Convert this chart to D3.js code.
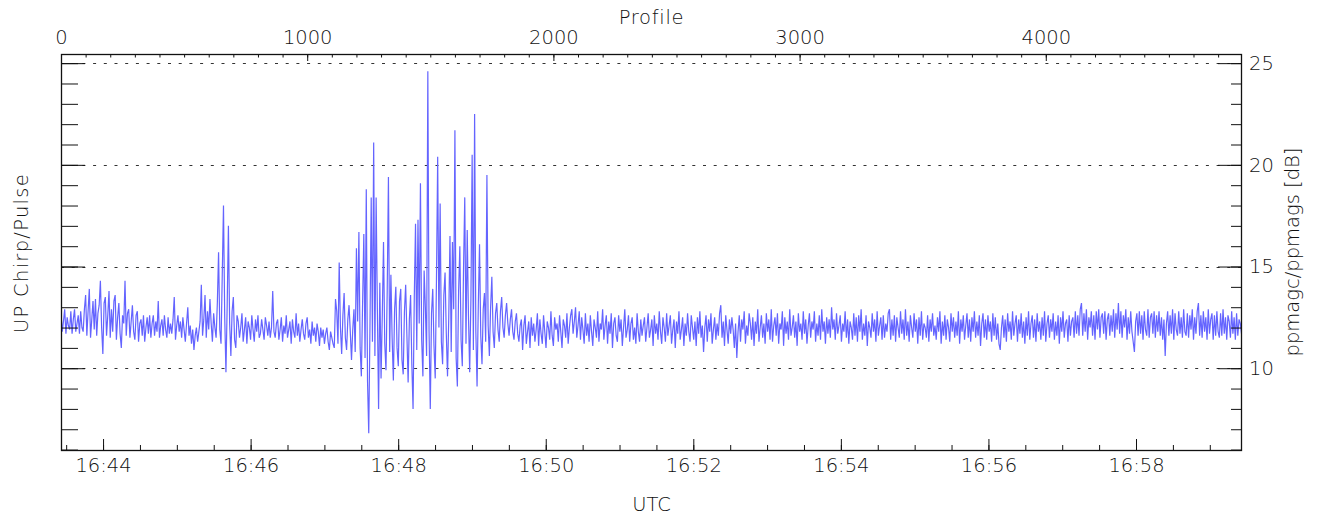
<!DOCTYPE html>
<html>
<head>
<meta charset="utf-8">
<script src="https://cdn.jsdelivr.net/npm/d3@7"></script>
<style>
  html, body { margin: 0; padding: 0; background: #fff; }
  svg { display: block; }
  text { font-family: "DejaVu Sans", "Liberation Sans", sans-serif; font-weight: 200; fill: #111; }
</style>
</head>
<body>
<svg id="chart" width="1319" height="519"></svg>
<script>
// ---------------- data (one every 5 profiles) ----------------
const profileStep = 5;
// 16:43:26 – ~16:45:30
const segA = [12.7, 11.8, 12.3, 12.9, 11.7, 12.5, 12.1, 11.9, 12.8, 11.7, 12.4, 12.9, 11.8, 12.2, 12.6, 11.7, 12.8, 12.0, 11.8, 12.9,
  13.6, 11.6, 12.8, 13.9, 11.5, 12.4, 13.3, 11.9, 13.4, 11.6, 12.7, 13.1,
  14.3, 12.0, 10.7, 13.2, 13.5, 11.6, 12.6, 13.8, 11.5, 12.9, 11.8, 13.3,
  13.6, 11.4, 12.5, 13.2, 11.7, 11.0, 12.6, 12.2,
  14.3, 11.6, 12.7, 12.9, 11.5, 12.3, 13.1, 11.8, 11.4, 12.6,
  12.8, 11.3, 12.2, 12.4, 11.6, 12.6, 11.3, 12.0, 12.5, 11.7,
  12.6, 11.5, 12.2, 12.6, 11.6, 12.3, 11.8, 13.3, 11.5, 12.1, 12.4, 11.6, 12.6, 11.9, 11.5, 12.5, 11.7, 12.2,
  11.7, 12.4, 13.5, 11.4, 12.1, 12.6, 11.8, 12.3, 11.5, 12.5, 11.9, 11.3, 12.2, 13.0, 11.6, 12.1,
  11.2, 11.9, 10.9, 11.6, 12.0, 11.3, 11.8, 12.3];
// ~16:45:30 – 16:47:15 (spike near 16:45:40)
const segB = [14.1, 11.6, 12.4, 13.6, 11.5, 12.8, 11.9, 13.4, 12.2, 11.3, 12.7, 12.0, 11.5, 13.2,
  15.7, 11.9, 11.2, 14.6, 18.0, 12.5, 9.8, 13.1, 17.0, 12.2, 10.6, 12.8,
  13.5, 11.4, 11.0, 12.6, 12.3, 11.5, 12.0, 12.7, 11.3, 11.9, 12.5, 11.2, 12.3, 12.0, 11.4, 12.6, 11.9, 11.3, 12.4, 11.8, 12.6, 11.5,
  11.7, 12.4, 11.9, 11.4, 12.5, 12.1, 11.6, 12.3, 11.5, 12.0, 13.8, 11.8,
  11.5, 12.2, 12.4, 11.4, 11.9, 12.5, 11.3, 12.1, 11.7, 12.6, 11.5, 11.9, 12.3, 11.2, 12.4, 11.8, 11.5, 12.7, 11.6, 12.2, 11.3, 11.9, 12.4, 11.7,
  11.4, 12.2, 12.5, 11.5, 11.9, 11.2, 12.3, 11.6, 12.0, 11.3, 12.2, 11.8, 11.1, 12.0, 11.5, 11.9, 11.2, 11.7, 12.0, 11.3, 10.9, 11.8, 11.5, 11.2];
// 16:47:15 – 16:49:50 (disturbed interval)
const segC = [11.0, 13.4, 12.8, 11.2, 15.2, 12.0, 10.7, 12.6, 13.7, 11.5, 10.9, 12.4, 13.1, 11.8, 10.4, 11.9, 12.9, 10.8, 15.9, 12.3,
  16.7, 11.0, 9.6, 13.2, 16.6, 10.5, 18.8, 9.4, 6.8, 12.1, 18.4, 11.3, 21.1, 10.6, 18.4, 12.9, 8.0, 14.2, 9.5, 12.6,
  16.2, 11.2, 9.9, 13.8, 19.4, 10.8, 14.6, 11.5, 9.4, 12.9, 14.0, 11.0, 10.1, 13.3, 13.9, 10.4, 9.7, 12.8, 14.1, 11.6,
  9.3, 12.4, 13.6, 10.2, 8.0, 13.5, 17.1, 10.9, 17.3, 12.2, 19.1, 11.4, 9.6, 14.8, 13.0, 10.6, 24.6, 11.8, 8.0, 12.7,
  13.9, 11.1, 9.5, 14.3, 20.4, 12.0, 18.1, 11.3, 10.2, 13.6, 14.7, 11.7, 9.6, 12.5, 16.5, 10.8, 16.2, 12.9, 21.7, 10.5,
  9.1, 13.8, 16.0, 11.4, 10.1, 14.9, 18.4, 11.2, 16.8, 12.6, 9.8, 13.4, 20.5, 10.9, 22.5, 11.8, 9.1, 13.1, 16.1, 11.6,
  10.2, 12.9, 13.7, 11.3, 19.5, 12.1, 10.6, 13.0, 14.5, 11.8, 11.0, 12.7, 13.2, 11.9, 11.3, 12.8, 13.5, 12.0, 11.5, 12.6,
  13.2, 12.2, 11.6, 12.4, 12.9, 11.8, 11.4, 12.3, 12.7, 11.7, 11.3, 12.1];
// 16:49:50 – 16:51:30
const segD1 = [12.4, 10.9, 12.1, 12.6, 11.2, 11.8, 12.3, 11.0, 12.5, 11.6,
  12.2, 11.3, 11.9, 12.7, 11.1, 12.4, 11.7, 11.2, 12.6, 11.8,
  11.0, 12.3, 12.0, 11.4, 12.8, 11.6, 11.1, 12.5, 11.9, 12.2,
  11.3, 12.6, 11.8, 11.0, 12.4, 12.1, 11.5, 12.7, 11.2, 12.0,
  12.6, 12.9, 11.7, 12.3, 13.0, 11.5, 12.1, 12.8, 11.4, 12.5,
  11.9, 11.2, 12.7, 11.6, 12.2, 11.3, 12.6, 11.8, 11.1, 12.4,
  12.0, 11.5, 12.8, 11.3, 12.2, 11.9, 12.9, 11.4, 12.1, 12.6,
  11.2, 12.3, 11.7, 12.7, 11.0, 12.2, 12.5, 11.6, 11.3, 12.6,
  11.8, 12.4, 11.1, 12.0, 12.9, 11.5, 11.9, 12.6, 11.3, 12.2,
  12.5, 11.4, 12.0, 11.2, 12.7, 11.8, 11.3, 12.4, 11.6, 12.1];
// 16:51:30 – 16:54:05
const segD2 = [12.5, 11.3, 12.0, 12.7, 11.5, 11.9, 12.4, 11.1, 12.6, 11.7,
  12.2, 11.4, 12.8, 11.8, 11.2, 12.5, 12.0, 11.3, 12.7, 11.6,
  12.1, 12.6, 11.2, 11.9, 12.4, 11.0, 12.3, 11.7, 12.8, 11.4,
  11.9, 12.5, 11.1, 12.2, 11.6, 12.7, 11.8, 11.3, 12.6, 12.0,
  11.4, 12.3, 11.1, 12.5, 11.7, 12.8, 11.5, 12.1, 10.8, 12.0,
  12.6, 11.3, 12.4, 11.8, 12.7, 11.2, 11.9, 12.5, 11.4, 12.2,
  11.6, 12.7, 13.1, 11.5, 12.3, 11.1, 12.6, 11.9, 11.2, 12.4,
  11.7, 12.5, 11.9, 11.0, 12.2, 10.5, 11.8, 12.6, 11.3, 12.4,
  11.9, 12.8, 11.2, 12.1, 11.6, 12.7, 12.2, 11.4, 12.5, 11.1,
  12.3, 11.7, 12.9, 11.3, 12.0, 12.6, 11.5, 12.2, 11.2, 12.7,
  11.8, 12.4, 11.4, 12.9, 11.3, 12.1, 12.5, 11.6, 12.7, 11.2,
  12.2, 11.9, 12.8, 11.1, 12.5, 11.7, 12.3, 11.4, 12.9, 11.6,
  12.0, 12.6, 11.5, 12.3, 11.1, 12.7, 11.8, 12.2, 11.4, 12.8,
  11.7, 12.4, 11.2, 12.1, 12.7, 11.5, 12.3, 11.9, 12.8, 11.3,
  12.2, 11.6, 12.6, 11.4, 12.9, 11.8, 12.3, 11.2, 12.5, 11.7,
  12.4, 11.5, 13.0, 11.9];
// 16:54:05 – 16:57:15
const segD3 = [12.4, 11.4, 12.7, 11.7, 12.1, 12.6, 11.3, 12.2, 11.8, 12.8,
  11.5, 12.4, 11.2, 12.3, 12.0, 11.4, 12.7, 11.6, 12.5, 11.3,
  12.6, 11.8, 12.9, 11.4, 12.2, 11.6, 12.6, 11.1, 12.3, 12.0,
  11.5, 12.7, 11.8, 12.4, 11.3, 12.8, 11.6, 12.1, 12.5, 11.4,
  12.6, 11.5, 12.2, 11.8, 12.7, 12.9, 11.4, 12.4, 11.6, 12.6,
  11.3, 12.5, 12.0, 11.5, 12.8, 11.7, 12.4, 11.4, 12.9, 11.6,
  12.3, 11.3, 12.6, 12.0, 11.5, 12.7, 11.8, 12.4, 11.2, 12.5,
  11.6, 12.8, 11.4, 12.2, 12.0, 11.5, 12.6, 11.3, 12.4, 11.8,
  12.7, 11.6, 12.1, 11.4, 12.5, 11.8, 12.8, 11.2, 12.3, 11.6,
  12.6, 11.4, 12.4, 12.0, 11.3, 12.7, 11.8, 12.5, 11.5, 12.3,
  11.6, 12.8, 11.2, 12.4, 11.8, 12.6, 11.4, 12.1, 12.7, 11.5,
  12.4, 11.3, 12.5, 11.8, 12.8, 11.5, 12.3, 11.6, 12.6, 11.1,
  12.2, 12.7, 11.5, 12.4, 11.4, 12.6, 11.8, 12.3, 11.3, 12.7,
  11.6, 12.5, 11.4, 12.2, 11.2, 10.9, 12.0, 12.6, 11.5, 12.4,
  11.3, 12.7, 11.8, 12.3, 11.4, 12.8, 11.6, 12.2, 12.6, 11.3,
  12.4, 11.7, 12.7, 11.5, 12.3, 11.2, 12.5, 11.6, 12.8, 11.4,
  12.2, 12.6, 11.5, 12.4, 11.3, 12.7, 11.8, 12.3, 11.4, 12.5,
  11.6, 12.8, 11.3, 12.2, 12.6, 11.5, 12.4, 11.8, 12.7, 11.4,
  12.3, 11.6, 12.6, 11.2, 12.5, 11.8, 12.8, 11.5, 12.2, 12.4,
  11.3, 12.6, 11.6, 12.3];
// 16:57:15 – 16:59:25
const segD4 = [12.5, 11.5, 12.8, 11.7, 12.6, 11.6, 12.9, 13.2, 11.6, 12.7,
  11.8, 12.9, 11.4, 12.5, 12.0, 12.8, 11.6, 12.6, 11.4, 12.8,
  11.9, 12.9, 11.5, 12.5, 12.7, 11.7, 12.8, 11.4, 12.4, 12.7,
  11.6, 12.6, 11.8, 12.9, 11.5, 12.7, 11.9, 13.2, 11.7, 12.8,
  11.5, 12.6, 12.0, 12.9, 11.4, 12.5, 11.7, 12.8, 11.8, 11.3,
  10.8, 12.3, 12.7, 11.6, 12.8, 11.7, 12.6, 11.4, 12.8, 11.9,
  11.6, 12.9, 11.5, 12.5, 12.7, 11.7, 12.8, 11.5, 12.6, 11.8,
  12.8, 11.6, 12.5, 11.4, 12.4, 10.6, 12.2, 12.8, 11.6, 12.6,
  11.7, 12.9, 11.4, 12.7, 11.9, 11.6, 12.8, 11.7, 12.5, 11.5,
  12.9, 11.8, 11.6, 12.7, 11.5, 12.6, 11.9, 12.9, 11.4, 12.5,
  11.7, 12.8, 13.2, 11.6, 12.6, 11.5, 12.8, 11.8, 12.5, 11.4,
  12.9, 11.7, 12.4, 12.7, 11.4, 12.6, 11.6, 12.8, 11.8, 11.5,
  12.7, 11.6, 12.9, 11.7, 12.5, 11.4, 12.6, 12.3, 11.5, 12.8,
  11.7, 12.5, 11.4, 12.7, 11.6, 12.4, 12.2, 11.7];

const profileTicks = [0, 1000, 2000, 3000, 4000];
const rightTicks = [10, 15, 20, 25];
const gridValues = [10, 15, 20, 25];
const timeStart = "2000-01-01T16:43:25.8Z";
const timeEnd = "2000-01-01T16:59:26.2Z";
const profileMax = 4797;
const yDomain = [5.93, 25.45];

const values = [].concat(segA, segB, segC, segD1, segD2, segD3, segD4);
const series = values.map((v, i) => ({ p: i * profileStep, v }));

// ---------------- layout ----------------
const L = 61, R = 1242, T = 54, B = 451;
const FS = 19.5;
const svg = d3.select("#chart");
svg.append("rect").attr("width", 1319).attr("height", 519).attr("fill", "#fff");

const xP = d3.scaleLinear().domain([0, profileMax]).range([L, R]);
const xT = d3.scaleUtc().domain([new Date(timeStart), new Date(timeEnd)]).range([L, R]);
const y = d3.scaleLinear().domain(yDomain).range([B, T]);

svg.append("defs").append("clipPath").attr("id", "clip")
  .append("rect").attr("x", L).attr("y", T).attr("width", R - L).attr("height", B - T);

// dotted grid
svg.append("g").selectAll("line").data(gridValues).join("line")
  .attr("x1", L).attr("x2", R)
  .attr("y1", d => Math.round(y(d)) + 0.5).attr("y2", d => Math.round(y(d)) + 0.5)
  .attr("stroke", "#333").attr("stroke-width", 1).attr("stroke-dasharray", "3,7.7");

// data line
svg.append("path").datum(series)
  .attr("clip-path", "url(#clip)")
  .attr("fill", "none").attr("stroke", "#6464ff").attr("stroke-width", 1.2)
  .attr("d", d3.line().x(d => xP(d.p)).y(d => y(d.v)));

function styleAxis(g) {
  g.select(".domain").remove();
  g.selectAll(".tick line").attr("stroke", "#111").attr("stroke-width", 1);
  g.selectAll(".tick text").attr("font-size", FS).attr("fill", "#111")
    .style("font-family", '"DejaVu Sans", "Liberation Sans", sans-serif').style("font-weight", 200);
}

// top axis (profiles)
svg.append("g").attr("transform", `translate(0,${T})`)
  .call(d3.axisTop(xP).tickValues(d3.range(0, profileMax, 100)).tickSize(-3.5).tickFormat(""))
  .call(styleAxis);
svg.append("g").attr("transform", `translate(0,${T})`)
  .call(d3.axisTop(xP).tickValues(profileTicks).tickSize(-7).tickFormat(d3.format("d")))
  .call(styleAxis)
  .call(g => g.selectAll(".tick text").attr("y", -17).attr("dy", "0.35em"));

// bottom axis (time)
svg.append("g").attr("transform", `translate(0,${B})`)
  .call(d3.axisBottom(xT).ticks(d3.utcSecond.every(30)).tickSize(-6).tickFormat(""))
  .call(styleAxis);
svg.append("g").attr("transform", `translate(0,${B})`)
  .call(d3.axisBottom(xT).ticks(d3.utcMinute.every(2)).tickSize(-12).tickFormat(d3.utcFormat("%H:%M")))
  .call(styleAxis)
  .call(g => g.selectAll(".tick text").attr("y", 14).attr("dy", "0.35em"));

// left axis (ticks only)
svg.append("g").attr("transform", `translate(${L},0)`)
  .call(d3.axisLeft(y).tickValues(d3.range(6, 26, 1)).tickSize(-17).tickFormat(""))
  .call(styleAxis);
svg.append("g").attr("transform", `translate(${L},0)`)
  .call(d3.axisLeft(y).tickValues(rightTicks).tickSize(-24).tickFormat(""))
  .call(styleAxis);

// right axis
svg.append("g").attr("transform", `translate(${R},0)`)
  .call(d3.axisRight(y).tickValues(d3.range(6, 26, 1)).tickSize(-11).tickFormat(""))
  .call(styleAxis);
svg.append("g").attr("transform", `translate(${R},0)`)
  .call(d3.axisRight(y).tickValues(rightTicks).tickSize(-24).tickFormat(d3.format("d")))
  .call(styleAxis)
  .call(g => g.selectAll(".tick text").attr("x", 7).attr("text-anchor", "start"));

// frame
svg.append("rect").attr("x", L + 0.5).attr("y", T + 0.5).attr("width", R - L - 1).attr("height", B - T - 1)
  .attr("fill", "none").attr("stroke", "#111").attr("stroke-width", 1.3);

// axis titles
svg.append("text").attr("x", (L + R) / 2).attr("y", 17).attr("dy", "0.35em")
  .attr("text-anchor", "middle").attr("font-size", FS).attr("letter-spacing", 0.7).text("Profile");
svg.append("text").attr("x", (L + R) / 2).attr("y", 504).attr("dy", "0.35em")
  .attr("text-anchor", "middle").attr("font-size", FS).text("UTC");
svg.append("text").attr("transform", "translate(21,253) rotate(-90)").attr("dy", "0.35em")
  .attr("text-anchor", "middle").attr("font-size", FS).attr("letter-spacing", 1.3).text("UP Chirp/Pulse");
svg.append("text").attr("transform", "translate(1292,252) rotate(-90)").attr("dy", "0.35em")
  .attr("text-anchor", "middle").attr("font-size", FS).text("ppmagc/ppmags [dB]");
</script>
</body>
</html>
